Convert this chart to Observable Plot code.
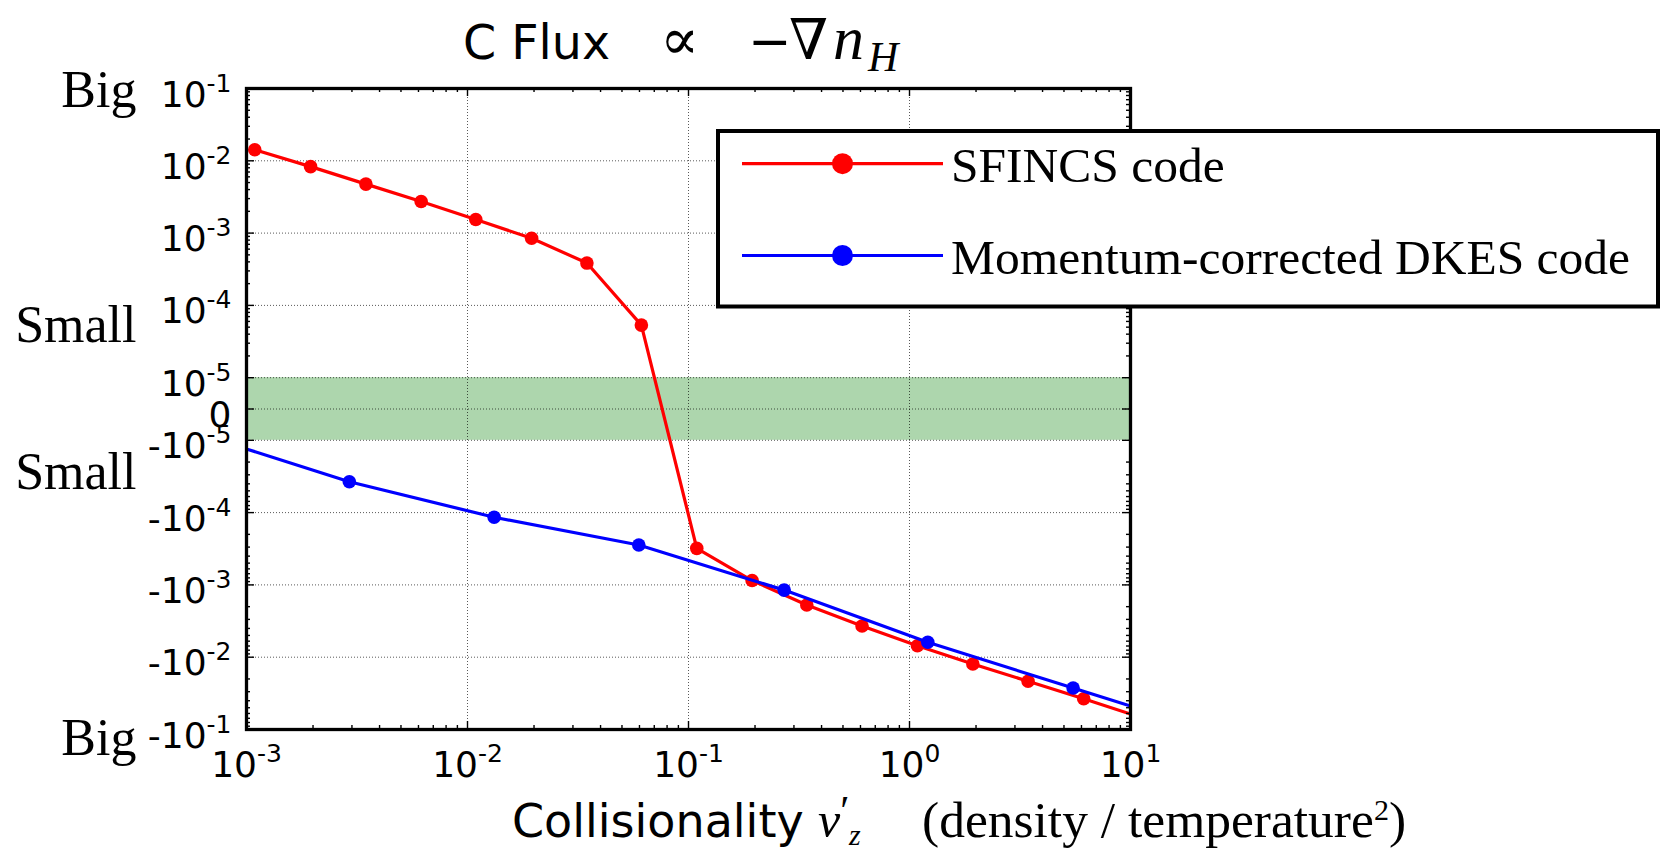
<!DOCTYPE html>
<html><head><meta charset="utf-8">
<script src="https://cdn.jsdelivr.net/npm/d3@7"></script>
<script src="https://cdn.jsdelivr.net/npm/@observablehq/plot@0.6"></script>
<style>
body{margin:0;background:#fff;}
#chart{position:relative;width:1661px;height:849px;}
</style></head><body><div id="chart"></div>
<script>
// ---- data ----
const sfincsNu   = [0.00109, 0.00195, 0.00347, 0.00617, 0.0109, 0.0195, 0.0347, 0.0612, 0.109, 0.194, 0.343, 0.610, 1.086, 1.935, 3.44, 6.14, 10.9];
const sfincsFlux = [1.42e-2, 8.3e-3, 4.76e-3, 2.74e-3, 1.54e-3, 8.5e-4, 3.85e-4, 5.34e-5, -3.12e-4, -8.7e-4, -1.90e-3, -3.70e-3, -6.93e-3, -1.24e-2, -2.15e-2, -3.75e-2, -6.65e-2];
const dkesNu     = [6.46e-4, 2.92e-3, 1.32e-2, 5.96e-2, 0.271, 1.21, 5.50, 24.9];
const dkesFlux   = [-8.5e-6, -3.74e-5, -1.16e-4, -2.81e-4, -1.18e-3, -6.22e-3, -2.67e-2, -0.1135];
const seriesNames = ["SFINCS code", "Momentum-corrected DKES code"];
const seriesColors = ["#ff0000", "#0000ff"];
const bandLimits = [-1e-5, 1e-5];
const xTickValues = [1e-3, 1e-2, 1e-1, 1e0, 1e1];
const xTickLabels = ["10^-3", "10^-2", "10^-1", "10^0", "10^1"];
const yTickValues = [1e-1, 1e-2, 1e-3, 1e-4, 1e-5, 0, -1e-5, -1e-4, -1e-3, -1e-2, -1e-1];
const yTickLabels = ["10^-1", "10^-2", "10^-3", "10^-4", "10^-5", "0", "-10^-5", "-10^-4", "-10^-3", "-10^-2", "-10^-1"];
const sideLabels = ["Big", "Small", "Small", "Big"];
const sideLabelLevels = [1e-1, 5.6e-5, -2.6e-5, -0.123];

// matplotlib-style symlog (linthresh 1e-5)
const LIN = 1e-5, LINSCALE = 0.433;
function symlog(v) {
  const a = Math.abs(v);
  return a <= LIN ? LINSCALE * v / LIN : Math.sign(v) * (LINSCALE + Math.log10(a / LIN));
}

const W = 1661, H = 849, mL = 246, mR = 531, mT = 88, mB = 120;
const innerW = W - mL - mR, innerH = H - mT - mB;

const sfincs = sfincsNu.map((nu, i) => ({nu, flux: sfincsFlux[i]}));
const dkes = dkesNu.map((nu, i) => ({nu, flux: dkesFlux[i]}));
const band = [{x1: xTickValues[0], x2: xTickValues[xTickValues.length - 1], lo: bandLimits[0], hi: bandLimits[1]}];

const xMinor = [];
for (let k = -3; k < 1; k++) for (let m = 2; m <= 9; m++) xMinor.push(m * Math.pow(10, k));
const yMinor = [];
for (let k = -5; k < -1; k++) for (let m = 2; m <= 9; m++) { yMinor.push(m * Math.pow(10, k)); yMinor.push(-m * Math.pow(10, k)); }

const Y = d => symlog(d);
const grid = {stroke: "#000", strokeOpacity: 0.65, strokeWidth: 1, strokeDasharray: "1,2"};
const tk = {stroke: "#000", strokeWidth: 1.4};

const chart = Plot.plot({
  width: W, height: H,
  marginLeft: mL, marginRight: mR, marginTop: mT, marginBottom: mB,
  style: {background: "white", overflow: "visible"},
  x: {type: "log", domain: [xTickValues[0], xTickValues[xTickValues.length - 1]], axis: null},
  y: {type: "linear", domain: [symlog(-0.1), symlog(0.1)], axis: null},
  marks: [
    Plot.rect(band, {x1: "x1", x2: "x2", y1: d => symlog(d.lo), y2: d => symlog(d.hi), fill: "#add6ad"}),
    Plot.ruleX(xTickValues.slice(1, -1), {x: d => d, ...grid}),
    Plot.ruleY(yTickValues.slice(1, -1), {y: Y, ...grid}),
    Plot.line(sfincs, {x: "nu", y: d => symlog(d.flux), stroke: seriesColors[0], strokeWidth: 3.2, clip: true}),
    Plot.dot(sfincs, {x: "nu", y: d => symlog(d.flux), r: 6.8, fill: seriesColors[0], clip: true}),
    Plot.line(dkes, {x: "nu", y: d => symlog(d.flux), stroke: seriesColors[1], strokeWidth: 3.2, clip: true}),
    Plot.dot(dkes, {x: "nu", y: d => symlog(d.flux), r: 6.8, fill: seriesColors[1], clip: true}),
    // inward ticks
    Plot.tickX(xTickValues, {x: d => d, insetTop: innerH - 8, ...tk}),
    Plot.tickX(xTickValues, {x: d => d, insetBottom: innerH - 8, ...tk}),
    Plot.tickX(xMinor, {x: d => d, insetTop: innerH - 4, ...tk}),
    Plot.tickX(xMinor, {x: d => d, insetBottom: innerH - 4, ...tk}),
    Plot.tickY(yTickValues, {y: Y, insetRight: innerW - 8, ...tk}),
    Plot.tickY(yTickValues, {y: Y, insetLeft: innerW - 8, ...tk}),
    Plot.tickY(yMinor, {y: Y, insetRight: innerW - 4, ...tk}),
    Plot.tickY(yMinor, {y: Y, insetLeft: innerW - 4, ...tk}),
    Plot.frame({stroke: "#000", strokeWidth: 3.3}),
    // tick labels
    Plot.text(xTickValues, {x: d => d, frameAnchor: "bottom", dy: 47, lineAnchor: "bottom",
      text: (d, i) => xTickLabels[i], fontSize: 36, fontFamily: "DejaVu Sans", fill: "#000"}),
    Plot.text(yTickValues, {y: Y, frameAnchor: "left", dx: -15, dy: 18, lineAnchor: "bottom", textAnchor: "end",
      text: (d, i) => yTickLabels[i], fontSize: 36, fontFamily: "DejaVu Sans", fill: "#000"}),
    Plot.text(sideLabelLevels, {y: Y, frameAnchor: "left", dx: -110, dy: 18.7, lineAnchor: "bottom", textAnchor: "end",
      text: (d, i) => sideLabels[i], fontSize: 52, fontFamily: "Liberation Serif", fill: "#000"})
  ]
});
document.getElementById("chart").appendChild(chart);

// superscripts in tick labels
chart.querySelectorAll("text").forEach(t => {
  const m = /^(-?10)\^(-?\d+)$/.exec(t.textContent);
  if (!m) return;
  while (t.firstChild) t.removeChild(t.firstChild);
  const ns = "http://www.w3.org/2000/svg";
  const a = document.createElementNS(ns, "tspan"); a.textContent = m[1];
  const b = document.createElementNS(ns, "tspan"); b.textContent = m[2];
  b.setAttribute("font-size", "25"); b.setAttribute("dy", "-15");
  t.appendChild(a); t.appendChild(b);
});

const svg = d3.select(chart);
// title
const title = svg.append("text").attr("y", 59).attr("font-size", 47.5).attr("fill", "#000")
  .attr("text-anchor", "start").attr("font-family", "DejaVu Sans");
title.append("tspan").attr("x", 463).text("C Flux");
title.append("tspan").attr("x", 660).attr("font-family", "DejaVu Serif").attr("font-size", 58).text("∝");
title.append("tspan").attr("x", 748).attr("font-family", "DejaVu Serif").attr("font-size", 52).text("−");
title.append("tspan").attr("x", 789).attr("font-family", "DejaVu Serif").attr("font-size", 56).text("∇");
title.append("tspan").attr("x", 833).attr("font-family", "Liberation Serif").attr("font-style", "italic").attr("font-size", 62).text("n");
title.append("tspan").attr("x", 868).attr("font-family", "Liberation Serif").attr("font-style", "italic").attr("font-size", 42).attr("dy", 12).text("H");

// x axis label
const xl = svg.append("text").attr("y", 837).attr("font-size", 46).attr("fill", "#000")
  .attr("text-anchor", "start").attr("font-family", "DejaVu Sans");
xl.append("tspan").attr("x", 512).text("Collisionality");
xl.append("tspan").attr("x", 818).attr("font-family", "Liberation Serif").attr("font-style", "italic").attr("font-size", 50).text("ν");
xl.append("tspan").attr("font-family", "Liberation Serif").attr("font-size", 42).attr("dy", -12).text("′");
xl.append("tspan").attr("x", 849).attr("font-family", "Liberation Serif").attr("font-style", "italic").attr("font-size", 30).attr("dy", 20).text("z");
xl.append("tspan").attr("x", 922).attr("dy", -8).attr("font-family", "Liberation Serif").attr("font-size", 51.5).text("(density / temperature");
xl.append("tspan").attr("font-family", "Liberation Serif").attr("font-size", 30).attr("dy", -17).text("2");
xl.append("tspan").attr("font-family", "Liberation Serif").attr("font-size", 51.5).attr("dy", 17).text(")");

// legend
const lg = svg.append("g");
lg.append("rect").attr("x", 718).attr("y", 131).attr("width", 940).attr("height", 175.5)
  .attr("fill", "#fff").attr("stroke", "#000").attr("stroke-width", 4);
const legendY = [163.7, 255.5];
seriesNames.forEach((name, i) => {
  lg.append("line").attr("x1", 742).attr("x2", 943).attr("y1", legendY[i]).attr("y2", legendY[i])
    .attr("stroke", seriesColors[i]).attr("stroke-width", 3.2);
  lg.append("circle").attr("cx", 842.5).attr("cy", legendY[i]).attr("r", 10.5).attr("fill", seriesColors[i]);
  lg.append("text").attr("x", 951).attr("y", legendY[i] + 18).attr("font-family", "Liberation Serif")
    .attr("text-anchor", "start").attr("font-size", 49.5).attr("fill", "#000").text(name);
});
</script></body></html>
